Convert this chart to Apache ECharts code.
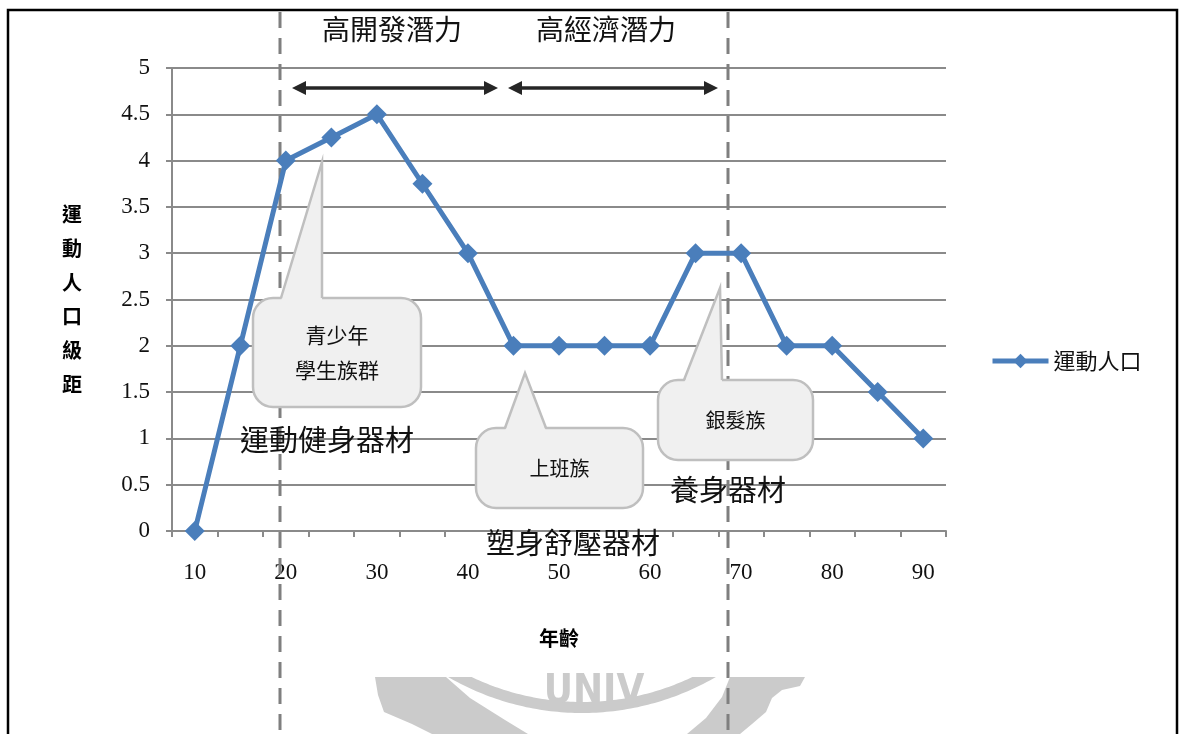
<!DOCTYPE html>
<html>
<head>
<meta charset="utf-8">
<script src="https://cdn.jsdelivr.net/npm/echarts@6/dist/echarts.min.js"></script>
<style>
  html, body { margin: 0; padding: 0; background: #fff; }
  #chart { width: 1181px; height: 734px; }
</style>
</head>
<body>
<div id="chart"></div>
<script>
// 年齡 (x軸類別)
var ages = ['10', '15', '20', '25', '30', '35', '40', '45', '50', '55', '60', '65', '70', '75', '80', '85', '90'];
// 運動人口級距
var population = [0, 2, 4, 4.25, 4.5, 3.75, 3, 2, 2, 2, 2, 3, 3, 2, 2, 1.5, 1];
var seriesName = '運動人口';
var yMin = 0, yMax = 5, yStep = 0.5;

// 標註文字
var phaseLabels = ['高開發潛力', '高經濟潛力'];
var bubbleLabels = [['青少年', '學生族群'], ['上班族'], ['銀髮族']];
var productLabels = ['運動健身器材', '塑身舒壓器材', '養身器材'];

var CJK = '"Noto Sans CJK TC", "Noto Sans CJK SC", sans-serif';
var NUM = '"Liberation Serif", "DejaVu Serif", serif';
var blue = '#4a7ebb';
var gridGray = '#8a8a8a';
var wmGray = '#cbcbcb';

/* 氣泡框 */
function bubble(box, tri, lines, size) {
    var fill = '#f0f0f0', edge = '#bfbfbf';
    var els = [{
        type: 'rect', z: 4,
        shape: { x: box[0], y: box[1], width: box[2], height: box[3], r: 20 },
        style: { fill: fill, stroke: edge, lineWidth: 2.5 }
    }, {
        type: 'polygon', z: 4,
        shape: { points: [[tri[0][0], tri[0][1] + 3], tri[1], [tri[2][0], tri[2][1] + 3]] },
        style: { fill: fill }
    }, {
        type: 'polyline', z: 4,
        shape: { points: tri },
        style: { stroke: edge, lineWidth: 2.5, fill: null }
    }];
    var cx = box[0] + box[2] / 2;
    var cy = box[1] + box[3] / 2;
    var lh = size * 1.7;
    lines.forEach(function (t, i) {
        els.push({
            type: 'text', z: 5,
            style: {
                text: t, x: cx, y: cy + (i - (lines.length - 1) / 2) * lh,
                textAlign: 'center', textVerticalAlign: 'middle',
                fill: '#111', fontSize: size, fontFamily: CJK
            }
        });
    });
    return els;
}

/* 雙向箭頭 */
function arrow(x1, x2, y) {
    var c = '#262626', L = 14, H = 7;
    return [{
        type: 'line', z: 5,
        shape: { x1: x1 + L - 2, y1: y, x2: x2 - L + 2, y2: y },
        style: { stroke: c, lineWidth: 3.5 }
    }, {
        type: 'polygon', z: 5,
        shape: { points: [[x1, y], [x1 + L, y - H], [x1 + L, y + H]] },
        style: { fill: c }
    }, {
        type: 'polygon', z: 5,
        shape: { points: [[x2, y], [x2 - L, y - H], [x2 - L, y + H]] },
        style: { fill: c }
    }];
}

/* 浮水印弧帶 (僅下緣可見) */
function ring(cx, cy, r0, r1, yc) {
    var pts = [], n = 80;
    var k1 = Math.asin(Math.min(1, (yc - cy) / r1));
    for (var i = 0; i <= n; i++) {
        var t = (Math.PI - k1) + (k1 - (Math.PI - k1)) * i / n;
        pts.push([cx + r1 * Math.cos(t), cy + r1 * Math.sin(t)]);
    }
    var k0 = Math.asin(Math.min(1, (yc - cy) / r0));
    for (var j = 0; j <= n; j++) {
        var s = k0 + ((Math.PI - k0) - k0) * j / n;
        pts.push([cx + r0 * Math.cos(s), cy + r0 * Math.sin(s)]);
    }
    return { type: 'polygon', z: 1, shape: { points: pts }, style: { fill: wmGray } };
}

var graphics = [];
// 浮水印
graphics.push(ring(582, 446, 256, 267, 677));
graphics.push({
    type: 'polygon', z: 1,
    shape: { points: [[375, 677], [446, 677], [470, 698], [505, 720], [528, 734], [432, 734],
        [412, 724], [384, 712], [378, 695]] },
    style: { fill: wmGray }
});
graphics.push({
    type: 'polygon', z: 1,
    shape: { points: [[730, 677], [805, 677], [800, 686], [782, 690], [772, 698], [766, 712],
        [752, 724], [740, 734], [687, 734], [706, 718], [722, 697]] },
    style: { fill: wmGray }
});
graphics.push({
    type: 'text', z: 1,
    style: {
        text: 'UNIV', x: 594, y: 713, textAlign: 'center', textVerticalAlign: 'bottom',
        fill: wmGray, fontSize: 40, fontWeight: 'bold',
        fontFamily: '"DejaVu Sans Condensed", "DejaVu Sans", sans-serif'
    }
});
// 外框
graphics.push({
    type: 'polyline', z: 6,
    shape: { points: [[8, 740], [8, 10], [1177, 10], [1177, 740]] },
    style: { stroke: '#000', lineWidth: 2.5, fill: null }
});
// 虛線分隔
[280, 728].forEach(function (x) {
    graphics.push({
        type: 'line', z: 3,
        shape: { x1: x, y1: 12, x2: x, y2: 734 },
        style: { stroke: '#7f7f7f', lineWidth: 3, lineDash: [16, 10] }
    });
});
// 階段標題與箭頭
graphics.push({
    type: 'text', z: 5,
    style: { text: phaseLabels[0], x: 392, y: 29, textAlign: 'center', textVerticalAlign: 'middle',
        fill: '#111', fontSize: 28, fontFamily: CJK }
});
graphics.push({
    type: 'text', z: 5,
    style: { text: phaseLabels[1], x: 606, y: 29, textAlign: 'center', textVerticalAlign: 'middle',
        fill: '#111', fontSize: 28, fontFamily: CJK }
});
graphics = graphics.concat(arrow(292, 498, 88), arrow(508, 718, 88));
// 氣泡
graphics = graphics.concat(
    bubble([253, 298, 168, 109], [[281, 298], [322, 162], [322, 298]], bubbleLabels[0], 21),
    bubble([476, 428, 167, 80], [[505, 428], [525, 373], [546, 428]], bubbleLabels[1], 20),
    bubble([658, 380, 155, 80], [[684, 380], [720, 288], [722, 380]], bubbleLabels[2], 20)
);
// 器材文字
[[productLabels[0], 327, 440], [productLabels[1], 573, 543], [productLabels[2], 728, 490]].forEach(function (p) {
    graphics.push({
        type: 'text', z: 5,
        style: { text: p[0], x: p[1], y: p[2], textAlign: 'center', textVerticalAlign: 'middle',
            fill: '#111', fontSize: 29, fontFamily: CJK }
    });
});

var chart = echarts.init(document.getElementById('chart'));
var option = {
    backgroundColor: '#fff',
    animation: false,
    grid: { left: 172, right: 235, top: 68, bottom: 203 },
    legend: {
        left: 985,
        top: 345,
        itemWidth: 56,
        itemHeight: 18,
        itemGap: 8,
        data: [seriesName],
        lineStyle: { width: 5 },
        textStyle: { fontSize: 22, fontFamily: CJK, color: '#111' }
    },
    xAxis: {
        type: 'category',
        data: ages,
        boundaryGap: true,
        name: '年齡',
        nameLocation: 'middle',
        nameGap: 97,
        nameTextStyle: { fontSize: 20, fontWeight: 'bold', fontFamily: CJK, color: '#000' },
        axisLine: { lineStyle: { color: gridGray, width: 2 } },
        axisTick: { show: true, interval: 0, length: 6, lineStyle: { color: gridGray, width: 2 } },
        axisLabel: { interval: 1, margin: 30, fontSize: 23, fontFamily: NUM, color: '#111' },
        splitLine: { show: false }
    },
    yAxis: {
        type: 'value',
        min: yMin,
        max: yMax,
        interval: yStep,
        name: '運\n動\n人\n口\n級\n距',
        nameLocation: 'middle',
        nameRotate: 0,
        nameGap: 100,
        nameTextStyle: { fontSize: 20, fontWeight: 'bold', fontFamily: CJK, color: '#000',
            lineHeight: 34, align: 'center', verticalAlign: 'middle' },
        axisLine: { show: true, lineStyle: { color: gridGray, width: 2 } },
        axisTick: { show: true, length: 6, lineStyle: { color: gridGray, width: 2 } },
        axisLabel: { margin: 22, fontSize: 23, fontFamily: NUM, color: '#111' },
        splitLine: { show: true, lineStyle: { color: gridGray, width: 2 } }
    },
    series: [{
        name: seriesName,
        type: 'line',
        data: population,
        z: 6,
        symbol: 'diamond',
        symbolSize: 20,
        itemStyle: { color: blue },
        lineStyle: { color: blue, width: 5 }
    }],
    graphic: { elements: graphics }
};
chart.setOption(option);
</script>
</body>
</html>
